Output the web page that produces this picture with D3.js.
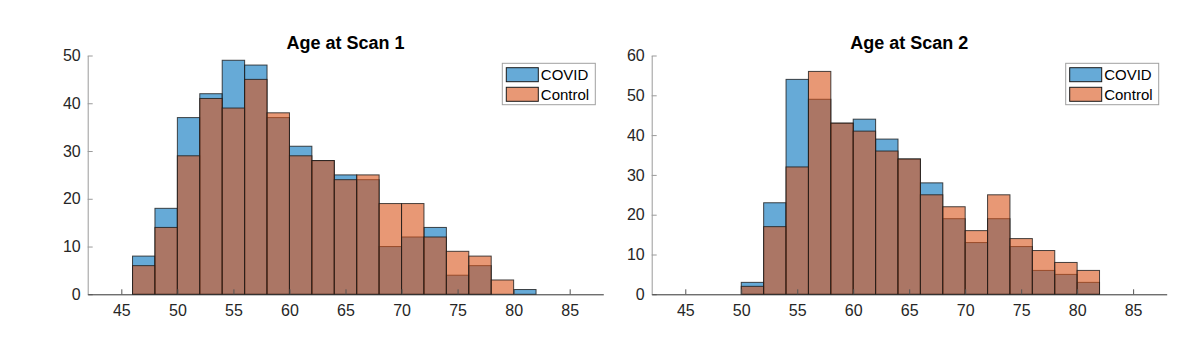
<!DOCTYPE html>
<html>
<head>
<meta charset="utf-8">
<script src="https://cdn.jsdelivr.net/npm/d3@7"></script>
<style>
  body { margin: 0; background: #fff; }
  svg text { font-family: "Liberation Sans", Arial, Helvetica, sans-serif; }
</style>
</head>
<body>
<script>
// bin starts (bin width 2 years) and counts
const binWidth = 2;
const bins1 = [46, 48, 50, 52, 54, 56, 58, 60, 62, 64, 66, 68, 70, 72, 74, 76, 78, 80];
const covid1 = [8, 18, 37, 42, 49, 48, 37, 31, 28, 25, 24, 10, 12, 14, 4, 6, 0, 1];
const control1 = [6, 14, 29, 41, 39, 45, 38, 29, 28, 24, 25, 19, 19, 12, 9, 8, 3, 0];

const bins2 = [50, 52, 54, 56, 58, 60, 62, 64, 66, 68, 70, 72, 74, 76, 78, 80];
const covid2 = [3, 23, 54, 49, 43, 44, 39, 34, 28, 19, 13, 19, 12, 6, 5, 3];
const control2 = [2, 17, 32, 56, 43, 41, 36, 34, 25, 22, 16, 25, 14, 11, 8, 6];

const xTicks = [45, 50, 55, 60, 65, 70, 75, 80, 85];
const yTicks1 = [0, 10, 20, 30, 40, 50];
const yTicks2 = [0, 10, 20, 30, 40, 50, 60];
const titles = ["Age at Scan 1", "Age at Scan 2"];
const seriesNames = ["COVID", "Control"];

const w = 1200;
const h = 353;
const blue = "#0072BD";
const orange = "#D95319";
const alpha = 0.6;

const svg = d3.select("body")
  .append("svg")
  .attr("width", w)
  .attr("height", h);

function drawPanel(left, right, bins, covid, control, yTicks, title) {
  const top = 55.5, bottom = 294.3;

  const xScale = d3.scaleLinear().domain([42, 88]).range([left, right]);
  const yScale = d3.scaleLinear().domain([0, d3.max(yTicks)]).range([bottom, top]);

  const g = svg.append("g");

  // y axis (light line, inward ticks)
  const yAxis = d3.axisLeft(yScale).tickValues(yTicks).tickSizeInner(-5).tickSizeOuter(0).tickPadding(7);
  const ya = g.append("g").attr("transform", "translate(" + left + ",0)").call(yAxis);
  ya.select(".domain").attr("stroke", "#9a9a9a");
  ya.selectAll(".tick line").attr("stroke", "#9a9a9a");
  ya.selectAll("text").attr("fill", "#262626").style("font-size", "16px");

  // series: COVID first, Control drawn over it
  [[covid, blue], [control, orange]].forEach(([vals, col]) => {
    g.append("g").selectAll("rect").data(bins).enter().append("rect")
      .attr("x", (d) => xScale(d))
      .attr("y", (d, i) => yScale(vals[i]))
      .attr("width", (d) => xScale(d + binWidth) - xScale(d))
      .attr("height", (d, i) => yScale(0) - yScale(vals[i]))
      .attr("fill", col)
      .attr("fill-opacity", alpha)
      .attr("stroke", "#1a1a1a")
      .attr("stroke-opacity", 0.8)
      .attr("stroke-width", 1);
  });

  // x axis
  const xAxis = d3.axisBottom(xScale).tickValues(xTicks).tickSizeInner(-5).tickSizeOuter(0).tickPadding(10);
  const xa = g.append("g").attr("transform", "translate(0," + bottom + ")").call(xAxis);
  xa.select(".domain").attr("stroke", "#333");
  xa.selectAll(".tick line").attr("stroke", "#555");
  xa.selectAll("text").attr("fill", "#262626").style("font-size", "16px");

  // title
  g.append("text")
    .attr("x", (left + right) / 2)
    .attr("y", 48.5)
    .attr("text-anchor", "middle")
    .style("font-size", "18px")
    .style("font-weight", "bold")
    .attr("fill", "#000")
    .text(title);

  // legend
  const lx = right - 101, ly = 63.3;
  const lg = g.append("g").attr("transform", "translate(" + lx + "," + ly + ")");
  lg.append("rect")
    .attr("x", 0).attr("y", 0).attr("width", 93).attr("height", 41.4)
    .attr("fill", "#fff").attr("stroke", "#a0a0a0").attr("stroke-width", 1);
  [blue, orange].forEach((col, i) => {
    lg.append("rect")
      .attr("x", 4).attr("y", 4.4 + i * 19.6).attr("width", 32).attr("height", 14)
      .attr("fill", col).attr("fill-opacity", alpha)
      .attr("stroke", "#1a1a1a").attr("stroke-width", 1);
    lg.append("text")
      .attr("x", 38.5).attr("y", 11.4 + i * 19.6)
      .attr("dy", "0.36em")
      .style("font-size", "15px")
      .attr("fill", "#000")
      .text(seriesNames[i]);
  });
}

drawPanel(87.7, 603.3, bins1, covid1, control1, yTicks1, titles[0]);
drawPanel(651.7, 1166.7, bins2, covid2, control2, yTicks2, titles[1]);
</script>
</body>
</html>
